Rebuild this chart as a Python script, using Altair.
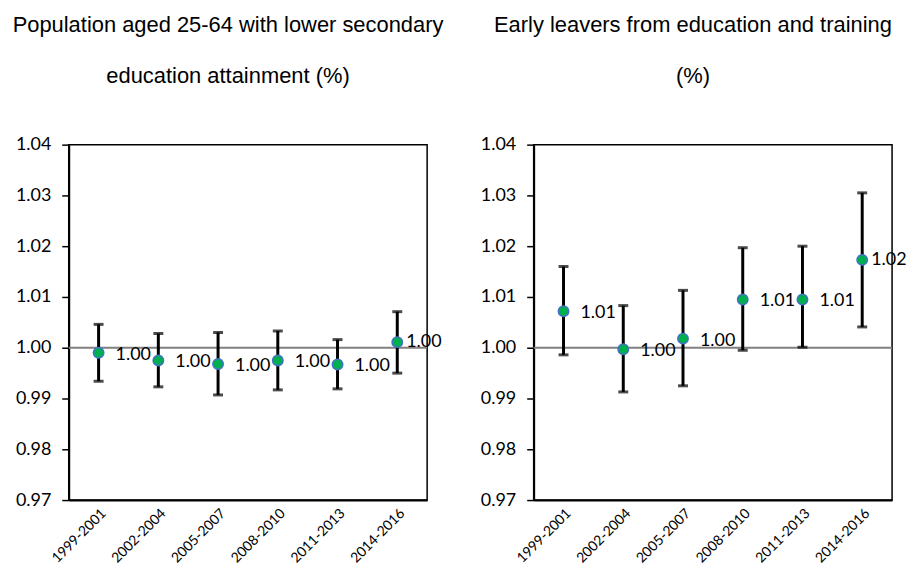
import altair as alt
import pandas as pd

periods = ["1999-2001", "2002-2004", "2005-2007", "2008-2010", "2011-2013", "2014-2016"]

left_title = ["Population aged 25-64 with lower secondary", "education attainment (%)"]
left_value = [0.9990, 0.9975, 0.9968, 0.9975, 0.9967, 1.0011]
left_low = [0.9934, 0.9923, 0.9907, 0.9917, 0.9919, 0.9950]
left_high = [1.0046, 1.0028, 1.0030, 1.0033, 1.0016, 1.0071]

right_title = ["Early leavers from education and training", "(%)"]
right_value = [1.0072, 0.9997, 1.0018, 1.0095, 1.0095, 1.0173]
right_low = [0.9986, 0.9913, 0.9925, 0.9995, 1.0001, 1.0041]
right_high = [1.0160, 1.0083, 1.0113, 1.0197, 1.0200, 1.0305]

y_ticks = [0.97, 0.98, 0.99, 1.00, 1.01, 1.02, 1.03, 1.04]
baseline = [1.00]


def panel(title, values, lows, highs):
    df = pd.DataFrame({"period": periods, "value": values, "low": lows, "high": highs})
    df["label"] = [f"{v:.2f}" for v in values]
    df["last"] = [i == len(periods) - 1 for i in range(len(periods))]
    base = alt.Chart(df)
    x = alt.X("period:N", sort=periods, title=None,
              scale=alt.Scale(type="point", padding=0.5),
              axis=alt.Axis(labelAngle=-45, labelFont="Lato", labelFontSize=14,
                            labelColor="black", ticks=False, domainColor="black",
                            domainWidth=2, labelPadding=6))
    yscale = alt.Scale(domain=[0.97, 1.04], nice=False, zero=False)
    yaxis = alt.Axis(values=y_ticks, format=".2f", labelFont="Lato", labelFontSize=18,
                     labelColor="black", tickColor="black", tickSize=7, tickWidth=1.5,
                     domainColor="black", domainWidth=2, labelPadding=11, grid=False)
    ref = alt.Chart(pd.DataFrame({"y": baseline})).mark_rule(
        color="#808080", strokeWidth=2).encode(
        y=alt.Y("y:Q", scale=yscale, axis=yaxis, title=None))
    rules = base.mark_rule(color="black", strokeWidth=3).encode(
        x=x, y=alt.Y("low:Q", scale=yscale, axis=yaxis, title=None), y2="high:Q")
    cap_lo = base.mark_tick(color="black", thickness=3, size=10, orient="horizontal").encode(
        x=x, y=alt.Y("low:Q", scale=yscale))
    cap_hi = base.mark_tick(color="black", thickness=3, size=10, orient="horizontal").encode(
        x=x, y=alt.Y("high:Q", scale=yscale))
    pts = base.mark_point(filled=True, fill="#00B050", stroke="#4472C4", strokeWidth=1.5,
                          size=110, opacity=1).encode(x=x, y=alt.Y("value:Q", scale=yscale))
    txt = base.transform_filter("!datum.last").mark_text(
        align="left", baseline="middle", dx=17, dy=2, font="Lato", fontSize=18,
        color="black").encode(x=x, y=alt.Y("value:Q", scale=yscale), text="label:N")
    txt_last = base.transform_filter("datum.last").mark_text(
        align="left", baseline="middle", dx=9, dy=0, font="Lato", fontSize=18,
        color="black").encode(x=x, y=alt.Y("value:Q", scale=yscale), text="label:N")
    return alt.layer(ref, rules, cap_lo, cap_hi, pts, txt, txt_last).properties(
        width=360, height=357,
        title=alt.TitleParams(text=title, font="Liberation Sans", fontSize=22,
                              fontWeight="normal", color="black", lineHeight=51,
                              anchor="middle", dx=-20, offset=48))


chart = alt.hconcat(
    panel(left_title, left_value, left_low, left_high),
    panel(right_title, right_value, right_low, right_high),
    spacing=34,
).configure(
    padding={"left": 3, "top": 4, "right": 0, "bottom": 0},
    background="white",
).configure_view(stroke="black", strokeWidth=1.5)

chart.save("out.html", embed_options={"renderer": "svg", "actions": False})
